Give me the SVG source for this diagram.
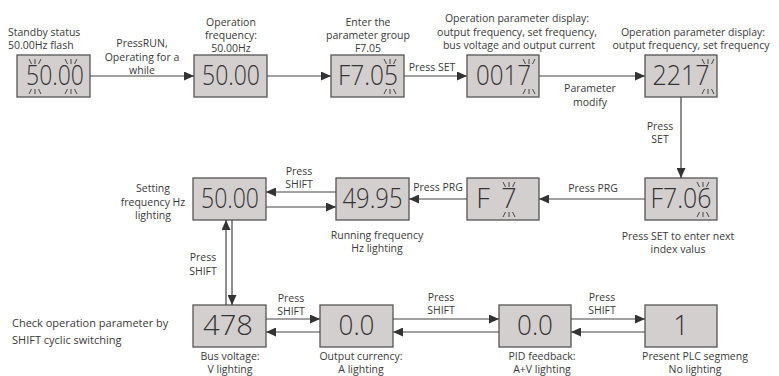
<svg xmlns="http://www.w3.org/2000/svg" width="779" height="376" viewBox="0 0 779 376">
<defs>
<style>
.box{fill:#d3cfcf;stroke:#555;stroke-width:1.3}
.big{font-family:"Open Sans","Noto Sans",sans-serif;font-size:27px;font-weight:300;fill:#333;text-anchor:middle}
.lbl{font-family:"Open Sans","Noto Sans",sans-serif;font-size:10.5px;fill:#3a3a3a;text-anchor:middle}
.st{text-anchor:start}
.conn path{stroke:#444;stroke-width:1.2;fill:none;marker-end:url(#ah)}
.mk{stroke:#444;stroke-width:1;fill:none}
</style>
<marker id="ah" markerUnits="userSpaceOnUse" markerWidth="10" markerHeight="9" refX="10" refY="4.5" orient="auto">
<path d="M0,0 L10,4.5 L0,9 z" fill="#333"/>
</marker>
<g id="up"><path class="mk" d="M-6,0 L-3.5,5 M0,0 L0,5 M6,0 L3.5,5"/></g>
<g id="dn"><path class="mk" d="M-3.5,0 L-6,5 M0,0 L0,5 M3.5,0 L6,5"/></g>
</defs>
<rect width="779" height="376" fill="#fff"/>

<g id="n1">
<rect class="box" x="17" y="55" width="73" height="42"/>
<text class="big" x="55" y="85" textLength="58" lengthAdjust="spacingAndGlyphs">50.00</text>
<use href="#up" x="35" y="59"/><use href="#up" x="71" y="59"/>
<use href="#dn" x="35" y="89"/><use href="#dn" x="71" y="89"/>
<text class="lbl st" x="8" y="36">Standby status</text>
<text class="lbl st" x="8" y="49">50.00Hz flash</text>
</g>

<g id="n2">
<rect class="box" x="194" y="55" width="73" height="42"/>
<text class="big" x="231" y="85" textLength="58" lengthAdjust="spacingAndGlyphs">50.00</text>
<text class="lbl" x="231" y="26">Operation</text>
<text class="lbl" x="231" y="39">frequency:</text>
<text class="lbl" x="231" y="52">50.00Hz</text>
</g>

<g id="n3">
<rect class="box" x="331" y="55" width="73" height="42"/>
<text class="big" x="368" y="85" textLength="60" lengthAdjust="spacingAndGlyphs">F7.05</text>
<use href="#up" x="390" y="59"/><use href="#dn" x="390" y="89"/>
<text class="lbl" x="368" y="26">Enter the</text>
<text class="lbl" x="368" y="39">parameter group</text>
<text class="lbl" x="368" y="52">F7.05</text>
</g>

<g id="n4">
<rect class="box" x="467" y="55" width="72" height="42"/>
<text class="big" x="503.5" y="85" textLength="55" lengthAdjust="spacingAndGlyphs">0017</text>
<use href="#up" x="529" y="59"/><use href="#dn" x="529" y="89"/>
<text class="lbl" x="517" y="22">Operation parameter display:</text>
<text class="lbl" x="517" y="36">output frequency, set frequency,</text>
<text class="lbl" x="519" y="49">bus voltage and output current</text>
</g>

<g id="n5">
<rect class="box" x="645" y="55" width="72" height="42"/>
<text class="big" x="681" y="85" textLength="57" lengthAdjust="spacingAndGlyphs">2217</text>
<use href="#up" x="708" y="59"/><use href="#dn" x="708" y="89"/>
<text class="lbl" x="693" y="36">Operation parameter display:</text>
<text class="lbl" x="691" y="49">output frequency, set frequency</text>
</g>

<g id="n6">
<rect class="box" x="645" y="178" width="72" height="42"/>
<text class="big" x="681" y="208" textLength="61" lengthAdjust="spacingAndGlyphs">F7.06</text>
<use href="#up" x="703" y="182"/><use href="#dn" x="703" y="212"/>
<text class="lbl" x="678" y="240">Press SET to enter next</text>
<text class="lbl" x="678" y="253">index valus</text>
</g>

<g id="n7">
<rect class="box" x="467" y="178" width="72" height="42"/>
<text class="big" y="208"><tspan x="483">F</tspan><tspan x="509">7</tspan></text>
<use href="#up" x="509" y="182"/><use href="#dn" x="509" y="212"/>
</g>

<g id="n8">
<rect class="box" x="336" y="178" width="73" height="42"/>
<text class="big" x="372.5" y="208" textLength="60" lengthAdjust="spacingAndGlyphs">49.95</text>
<text class="lbl" x="377" y="239">Running frequency</text>
<text class="lbl" x="377" y="252">Hz lighting</text>
</g>

<g id="n9">
<rect class="box" x="193" y="178" width="73" height="42"/>
<text class="big" x="230" y="208" textLength="58" lengthAdjust="spacingAndGlyphs">50.00</text>
<text class="lbl" x="153" y="192">Setting</text>
<text class="lbl" x="153" y="206">frequency Hz</text>
<text class="lbl" x="153" y="219">lighting</text>
</g>

<g id="n10">
<rect class="box" x="193" y="305" width="73" height="42"/>
<text class="big" x="228" y="335" textLength="50" lengthAdjust="spacingAndGlyphs">478</text>
<text class="lbl" x="230" y="360">Bus voltage:</text>
<text class="lbl" x="230" y="373">V lighting</text>
</g>

<g id="n11">
<rect class="box" x="320" y="305" width="73" height="42"/>
<text class="big" x="356.5" y="335" textLength="36" lengthAdjust="spacingAndGlyphs">0.0</text>
<text class="lbl" x="361" y="360">Output currency:</text>
<text class="lbl" x="361" y="373">A lighting</text>
</g>

<g id="n12">
<rect class="box" x="499" y="305" width="72" height="42"/>
<text class="big" x="535" y="335" textLength="36" lengthAdjust="spacingAndGlyphs">0.0</text>
<text class="lbl" x="542" y="360">PID feedback:</text>
<text class="lbl" x="542" y="373">A+V lighting</text>
</g>

<g id="n13">
<rect class="box" x="645" y="305" width="72" height="42"/>
<text class="big" x="681" y="335">1</text>
<text class="lbl" x="695" y="360">Present PLC segmeng</text>
<text class="lbl" x="695" y="373">No lighting</text>
</g>

<g id="note">
<text class="lbl st" x="12" y="327" style="font-size:11px">Check operation parameter by</text>
<text class="lbl st" x="12" y="344" style="font-size:11px">SHIFT cyclic switching</text>
</g>

<g id="connectors" class="conn">
<path d="M90,76 H194"/>
<path d="M267,76 H331"/>
<path d="M404,76 H467"/>
<path d="M539,76 H645"/>
<path d="M681,97 V178"/>
<path d="M645,199 H539"/>
<path d="M467,199 H409"/>
<path d="M336,192 H266"/>
<path d="M266,207 H336"/>
<path d="M226,305 V220"/>
<path d="M232,220 V305"/>
<path d="M266,319 H320"/>
<path d="M320,332 H266"/>
<path d="M393,319 H499"/>
<path d="M499,332 H393"/>
<path d="M571,319 H645"/>
<path d="M645,332 H571"/>
</g>

<g id="connector-labels">
<text class="lbl" x="142" y="47">PressRUN,</text>
<text class="lbl" x="142" y="61">Operating for a</text>
<text class="lbl" x="142" y="74">while</text>
<text class="lbl" x="432" y="71">Press SET</text>
<text class="lbl" x="590" y="92">Parameter</text>
<text class="lbl" x="590" y="106">modify</text>
<text class="lbl" x="660" y="130">Press</text>
<text class="lbl" x="660" y="143">SET</text>
<text class="lbl" x="593" y="192">Press PRG</text>
<text class="lbl" x="438" y="191">Press PRG</text>
<text class="lbl" x="299" y="175">Press</text>
<text class="lbl" x="299" y="188">SHIFT</text>
<text class="lbl" x="203" y="261">Press</text>
<text class="lbl" x="203" y="275">SHIFT</text>
<text class="lbl" x="291" y="302">Press</text>
<text class="lbl" x="291" y="315">SHIFT</text>
<text class="lbl" x="441" y="301">Press</text>
<text class="lbl" x="441" y="314">SHIFT</text>
<text class="lbl" x="602" y="301">Press</text>
<text class="lbl" x="602" y="314">SHIFT</text>
</g>
</svg>
